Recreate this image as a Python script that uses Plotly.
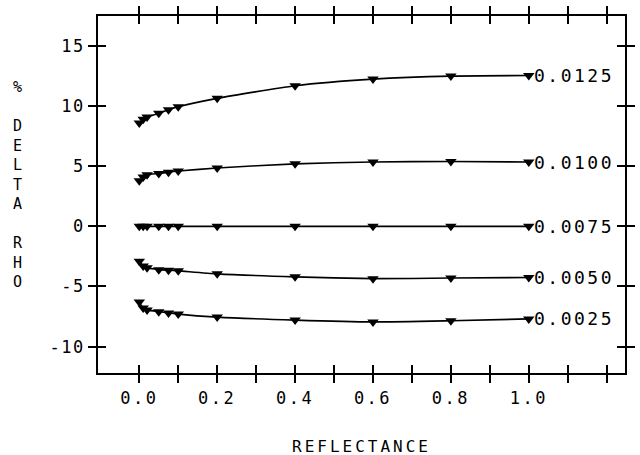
import plotly.graph_objects as go

# ---- data ----
reflectance = [0, 0.01, 0.02, 0.05, 0.075, 0.1, 0.2, 0.4, 0.6, 0.8, 1.0]
series_labels = ["0.0125", "0.0100", "0.0075", "0.0050", "0.0025"]
s_0125 = [8.6, 8.9, 9.1, 9.4, 9.7, 9.95, 10.65, 11.7, 12.25, 12.5, 12.55]
s_0100 = [3.8, 4.1, 4.3, 4.4, 4.5, 4.6, 4.85, 5.2, 5.35, 5.4, 5.35]
s_0075 = [0, 0, 0, 0, 0, 0, 0, 0, 0, 0, 0]
s_0050 = [-2.9, -3.3, -3.45, -3.6, -3.65, -3.7, -3.95, -4.2, -4.35, -4.3, -4.25]
s_0025 = [-6.3, -6.8, -6.95, -7.1, -7.2, -7.3, -7.55, -7.8, -7.95, -7.85, -7.7]
series_values = [s_0125, s_0100, s_0075, s_0050, s_0025]

x_tickvals = [0.0, 0.1, 0.2, 0.3, 0.4, 0.5, 0.6, 0.7, 0.8, 0.9, 1.0, 1.1, 1.2]
x_ticktext = ["0.0", "", "0.2", "", "0.4", "", "0.6", "", "0.8", "", "1.0", "", ""]
y_tickvals = [-10, -5, 0, 5, 10, 15]
y_ticktext = ["-10", "-5", "0", "5", "10", "15"]
x_title = "REFLECTANCE"
y_title_lines = ["%", "\u00a0", "D", "E", "L", "T", "A", "\u00a0", "R", "H", "O"]

FONT = "DejaVu Sans Mono"
X_RANGE = [-0.106, 1.247]
Y_RANGE = [-12.2, 17.5]


def spaced(t, px):
    if t == "":
        return ""
    return '<span style="letter-spacing:%spx">%s</span>' % (px, t)


fig = go.Figure()
for lab, vals in zip(series_labels, series_values):
    fig.add_trace(go.Scatter(
        x=reflectance, y=vals, mode="lines+markers", name=lab,
        line=dict(color="black", width=1.6, shape="spline", smoothing=0.6),
        marker=dict(symbol="triangle-down", size=10, color="black"),
        showlegend=False, cliponaxis=False,
    ))
    fig.add_annotation(
        x=reflectance[-1], y=vals[-1], xref="x", yref="y",
        text=spaced(lab, 2.5), showarrow=False, xanchor="left", yanchor="middle",
        xshift=3, font=dict(family=FONT, size=18, color="black"),
    )

# dummy trace for secondary (inside-tick) axes
fig.add_trace(go.Scatter(x=[], y=[], xaxis="x2", yaxis="y2", showlegend=False))

tick_common = dict(ticklen=8, tickwidth=1.5, tickcolor="black", showgrid=False, zeroline=False)

fig.update_layout(
    width=640, height=455,
    margin=dict(l=98, r=5, t=16, b=82),
    paper_bgcolor="white", plot_bgcolor="white",
    font=dict(family=FONT, color="black"),
    xaxis=dict(
        range=X_RANGE, tickmode="array", tickvals=x_tickvals,
        ticktext=[spaced(t, 2.5) for t in x_ticktext],
        ticks="outside", mirror="ticks", showline=True, linecolor="black", linewidth=1.8,
        tickfont=dict(family=FONT, size=17, color="black"), ticklabelstandoff=1,
        **tick_common,
    ),
    yaxis=dict(
        range=Y_RANGE, tickmode="array", tickvals=y_tickvals,
        ticktext=[spaced(t, 1.5) for t in y_ticktext],
        ticks="outside", mirror="ticks", showline=True, linecolor="black", linewidth=1.8,
        tickfont=dict(family=FONT, size=17, color="black"),
        **tick_common,
    ),
    xaxis2=dict(
        range=X_RANGE, overlaying="x", anchor="y", side="bottom",
        tickmode="array", tickvals=x_tickvals, showticklabels=False,
        ticks="inside", mirror="ticks", showline=False, **tick_common,
    ),
    yaxis2=dict(
        range=Y_RANGE, overlaying="y", anchor="x", side="left",
        tickmode="array", tickvals=y_tickvals, showticklabels=False,
        ticks="inside", mirror="ticks", showline=False, **tick_common,
    ),
)

fig.add_annotation(
    x=0.5, y=-0.205, xref="paper", yref="paper", text=spaced(x_title, 3),
    showarrow=False, xanchor="center", yanchor="middle",
    font=dict(family=FONT, size=16, color="black"),
)
fig.add_annotation(
    x=-0.152, y=0.527, xref="paper", yref="paper", text="<br>".join(y_title_lines),
    showarrow=False, xanchor="center", yanchor="middle",
    font=dict(family=FONT, size=15, color="black"),
)

fig.write_html("out.html")
